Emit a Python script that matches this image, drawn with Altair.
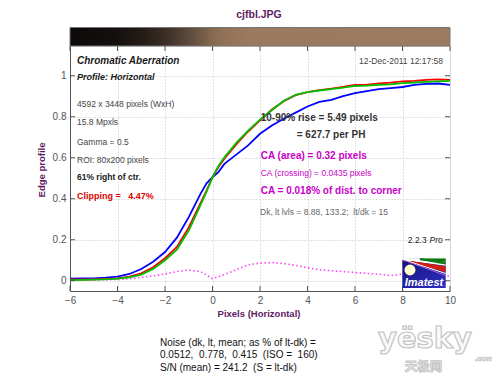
import altair as alt
import pandas as pd

# ---------------- data ----------------
x_px = [-6, -5.5, -5, -4.5, -4, -3.5, -3, -2.5, -2, -1.5, -1, -0.5,
        -0.25, 0, 0.25,
        0.5, 1, 1.5, 2, 2.5, 3, 3.5, 4, 4.5, 5, 5.5, 6, 6.5, 7, 7.5, 8, 8.5, 9, 9.5, 10]
red = [.005, .006, .007, .009, .012, .02, .036, .066, .11, .165, .26, .38,
       .44, .505, .555,
       .595, .665, .728, .782, .835, .876, .905, .92, .93, .937, .946, .955, .957, .962, .966, .972, .975, .98, .982, .98]
green = [.003, .004, .005, .007, .010, .017, .03, .058, .10, .152, .245, .37,
         .435, .505, .56,
         .602, .672, .732, .786, .832, .878, .907, .92, .928, .935, .942, .95, .952, .956, .958, .964, .967, .97, .972, .975]
blue = [.010, .011, .012, .015, .02, .033, .057, .093, .14, .21, .31, .425,
        .475, .505, .53,
        .57, .615, .66, .717, .757, .79, .82, .85, .872, .882, .9, .915, .925, .935, .94, .945, .955, .96, .962, .955]

ca_x = [-6, -5.5, -5, -4.5, -4, -3.5, -3, -2.5, -2, -1.5, -1, -0.5, 0, 0.5, 1, 1.5, 2,
        2.5, 3, 3.5, 4, 4.5, 5, 5.5, 6, 6.5, 7, 7.5, 8, 8.5, 9, 9.5, 10]
ca_diff = [.003, .003, .004, .005, .006, .01, .016, .024, .033, .045, .052, .045, .01, .03, .053, .078, .086,
           .089, .084, .075, .063, .054, .049, .045, .04, .036, .032, .025, .032, .03, .028, .025, .022]

x_ticks = [-6, -4, -2, 0, 2, 4, 6, 8, 10]
y_ticks = [0, 0.2, 0.4, 0.6, 0.8, 1]

strip_x = [-6, -4, -3.5, -3, -2, -1, 0, 0.5, 1.5, 10]
strip_colors = ["#0d0908", "#151010", "#1c1513", "#241b17", "#3a2d25", "#5c4a3c",
                "#86694f", "#917259", "#9a7a5e", "#9c7c60"]

W, H = 380, 245
XDOM = [-6, 10]
YDOM = [-0.05, 1.145]
PURPLE = "#5e1a62"
MAG = "#c800c8"
FONT = "Liberation Sans"

xs = alt.Scale(domain=XDOM, nice=False, zero=False)
ys = alt.Scale(domain=YDOM, nice=False, zero=False)

X_AX = alt.Axis(values=x_ticks, grid=True, gridDash=[1, 2], gridColor="#c4c4c4", ticks=False,
                domainColor="#555", labelFontSize=10, labelColor="#555", labelPadding=4,
                labelFlush=False, labelOverlap=False, title=None)
Y_AX = alt.Axis(values=y_ticks, grid=True, gridDash=[1, 2], gridColor="#c4c4c4", ticks=False,
                domainColor="#555", labelFontSize=10, labelColor="#555", labelPadding=4,
                labelFlush=False, labelOverlap=False, format="~g", title=None)

df = pd.DataFrame({"x": x_px, "red": red, "green": green, "blue": blue})
ca = pd.DataFrame({"x": ca_x, "d": ca_diff})


def line(col, color):
    return alt.Chart(df).mark_line(color=color, strokeWidth=1.8).encode(
        x=alt.X("x:Q", scale=xs, axis=X_AX),
        y=alt.Y(f"{col}:Q", scale=ys, axis=Y_AX))


one = alt.Data(values=[{"a": 1}])


def txt(s, x, y, size=8.5, color="#444", weight="normal", style="normal",
        align="left", angle=0, font=FONT, stroke=None, sw=0, baseline="middle"):
    kw = dict(fontSize=size, color=color, fontWeight=weight, fontStyle=style,
              align=align, baseline=baseline, angle=angle, font=font)
    if stroke:
        kw.update(stroke=stroke, strokeWidth=sw)
    return alt.Chart(one).mark_text(**kw).encode(
        x=alt.value(x), y=alt.value(y), text=alt.value(s))


def rule(x1, y1, x2, y2, color, w=1.0):
    return alt.Chart(one).mark_rule(color=color, strokeWidth=w).encode(
        x=alt.value(x1), y=alt.value(y1), x2=alt.value(x2), y2=alt.value(y2))


def rect(x1, y1, x2, y2, fill, stroke=None):
    kw = dict(fill=fill)
    if stroke:
        kw.update(stroke=stroke, strokeWidth=1)
    return alt.Chart(one).mark_rect(**kw).encode(
        x=alt.value(x1), y=alt.value(y1), x2=alt.value(x2), y2=alt.value(y2))


# edge image strip above the plot
strip = rect(0, -18.5, W, 0, alt.Gradient(
    gradient="linear", x1=0, x2=1, y1=0, y2=0,
    stops=[alt.GradientStop(color=c, offset=(v + 6) / 16) for v, c in zip(strip_x, strip_colors)]),
    stroke="#777")

# inward ticks
tx = pd.DataFrame({"t": x_ticks})
ty = pd.DataFrame({"t": y_ticks})
tick_b = alt.Chart(tx).mark_rule(color="#555").encode(
    x=alt.X("t:Q", scale=xs, axis=X_AX), y=alt.value(H), y2=alt.value(H - 5))
tick_t = alt.Chart(tx).mark_rule(color="#555").encode(
    x=alt.X("t:Q", scale=xs, axis=X_AX), y=alt.value(0), y2=alt.value(5))
tick_l = alt.Chart(ty).mark_rule(color="#555").encode(
    y=alt.Y("t:Q", scale=ys, axis=Y_AX), x=alt.value(0), x2=alt.value(5))
tick_r = alt.Chart(ty).mark_rule(color="#555").encode(
    y=alt.Y("t:Q", scale=ys, axis=Y_AX), x=alt.value(W), x2=alt.value(W - 5))

ca_line = alt.Chart(ca).mark_line(color="#ff44ff", strokeWidth=1.6, strokeDash=[1.5, 2.5]).encode(
    x=alt.X("x:Q", scale=xs, axis=X_AX), y=alt.Y("d:Q", scale=ys, axis=Y_AX))

# Imatest logo (decoration)
LX1, LY1, LX2, LY2 = 332.3, 212.7, 375.7, 242
logo = [
    rect(LX1, LY1, LX2, LY2, alt.Gradient(
        gradient="linear", x1=0, x2=1, y1=0, y2=1,
        stops=[alt.GradientStop(color="#141478", offset=0),
               alt.GradientStop(color="#2e2ec8", offset=1)])),
]
for yy in [213.2, 214.5, 216, 217.5, 219]:
    logo.append(rule(LX1, LY1 + 0.5, LX2, yy, "#ffffff", 1.6))
for yy in [213.3, 214.8, 216.3, 217.8]:
    logo.append(rule(350, LY1 + 0.5, LX2, yy, "#0a7a10", 1.6))
for yy in [221, 222.5, 224, 225.5]:
    logo.append(rule(LX1 + 8, LY1 + 3, LX2, yy, "#d42010", 1.4))
logo.append(rule(LX1, LY1 + 0.5, LX2, 227.5, "#ffffff", 1.0))
logo.append(rule(LX1, LY1 + 1, LX2, 229.5, "#d070e0", 0.8))
logo.append(alt.Chart(one).mark_circle(color="#ffffcc", opacity=1, size=120).encode(
    x=alt.value(340), y=alt.value(224)))
logo.append(txt("Imatest", 354, 236.5, size=11, color="#ffffff", weight="bold", style="italic", align="center"))

NB = "\u00a0"
texts = [
    txt("cjfbl.JPG", 189, -31, size=10.5, color=PURPLE, weight="bold", align="center"),
    txt("Chromatic Aberration", 7, 15, size=10, color="#1a1a1a", weight="bold", style="italic"),
    txt("12-Dec-2011 12:17:58", 373, 15, size=8.5, color="#444", align="right"),
    txt("Profile: Horizontal", 7, 31, size=9, color="#1a1a1a", weight="bold", style="italic"),
    txt("4592 x 3448 pixels (WxH)", 7, 58, size=8.5, color="#444"),
    txt("15.8 Mpxls", 7, 75.7, size=8.5, color="#444"),
    txt("Gamma = 0.5", 7, 95.7, size=8.5, color="#444"),
    txt("ROI: 80x200 pixels", 7, 114, size=8.5, color="#444"),
    txt("61% right of ctr.", 7, 131, size=8.5, color="#222", weight="bold"),
    txt(f"Clipping ={NB}{NB}{NB}4.47%", 7, 150.3, size=9, color="#e00000", weight="bold"),
    txt("10-90% rise = 5.49 pixels", 190.7, 72.3, size=10, color="#333", weight="bold"),
    txt("= 627.7 per PH", 226.7, 89, size=10, color="#333", weight="bold"),
    txt("CA (area) = 0.32 pixels", 190.7, 109.7, size=10, color=MAG, weight="bold"),
    txt("CA (crossing) = 0.0435 pixels", 190.7, 127.3, size=8.5, color=MAG),
    txt("CA = 0.018% of dist. to corner", 190.7, 145, size=10, color=MAG, weight="bold"),
    txt(f"Dk, lt lvls = 8.88, 133.2;{NB}{NB}lt/dk = 15", 190, 166.3, size=8.5, color="#666"),
    txt("2.2.3", 356.7, 194, size=8.5, color="#222", align="right"),
    txt("Pro", 372.7, 194, size=8.5, color="#222", style="italic", align="right"),
    txt("Pixels (Horizontal)", 189, 268, size=9.5, color=PURPLE, weight="bold", align="center"),
    txt("Edge profile", -28, 124, size=9.5, color=PURPLE, weight="bold", align="center", angle=270),
    txt("Noise (dk, lt, mean; as % of lt-dk) =", 90, 296.7, size=10, color="#111"),
    txt(f"0.0512,{NB}{NB}0.778,{NB}{NB}0.415{NB}{NB}(ISO ={NB}{NB}160)", 90, 309, size=10, color="#111"),
    txt(f"S/N (mean) = 241.2{NB}{NB}(S = lt-dk)", 90, 321.7, size=10, color="#111"),
    # watermark
    txt("yësky", 355, 302, size=29, color="#fafafa", weight="bold", align="center",
        font="DejaVu Sans", stroke="#c4c4c4", sw=1.2, baseline="alphabetic"),
    txt(".com", 414, 313, size=8, color="#f4f4f4", weight="bold", align="center",
        stroke="#c8c8c8", sw=0.7),
    txt("天极网", 353.5, 321, size=12.5, color="#f6f6f6", weight="bold", align="center",
        font="Noto Sans CJK SC", stroke="#c4c4c4", sw=0.9),
]

chart = alt.layer(
    ca_line,
    line("blue", "#0000ff"),
    line("red", "#ff0000"),
    line("green", "#00c000"),
    tick_b, tick_t, tick_l, tick_r,
    strip,
    *texts,
    *logo,
).properties(
    width=W, height=H,
    autosize=alt.AutoSizeParams(type="none"),
    padding={"left": 62, "top": 38, "right": 42, "bottom": 85},
).configure_view(stroke="#555", strokeWidth=1).configure(font=FONT, background="white")

chart.save("out.html", embed_options={"renderer": "svg", "actions": False})
